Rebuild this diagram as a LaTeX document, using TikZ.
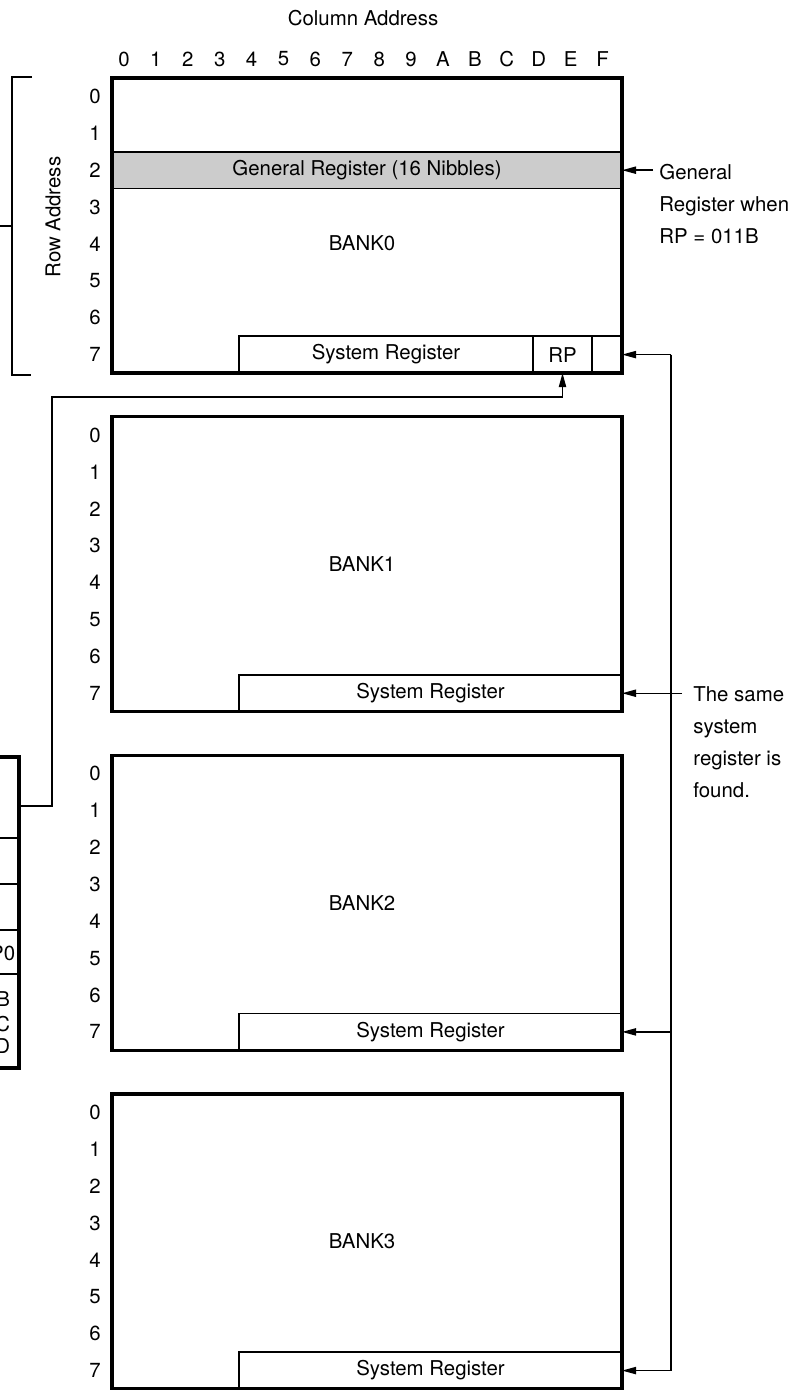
\documentclass[tikz,border=0pt]{standalone}
\usepackage{fontspec}
\setmainfont{TeX Gyre Heros}
\usetikzlibrary{positioning, arrows.meta, calc}

\tikzset{
    bankbox/.style={draw, line width=1.6pt, inner sep=0pt, outer sep=0pt,
        minimum width=255pt, minimum height=147.5pt, anchor=north west},
    sysbox/.style={draw, line width=0.8pt, inner sep=0pt, outer sep=0pt,
        minimum width=191.5pt, minimum height=18.44pt, anchor=south east},
    cellbox/.style={draw, line width=0.8pt, inner sep=0pt, outer sep=0pt, minimum height=18.44pt},
    thinlink/.style={line width=0.7pt},
    arrowlink/.style={thinlink, -{Triangle[length=7pt, width=3.6pt]}},
    note/.style={anchor=north west, align=left, inner sep=0pt}
}

\begin{document}
\begin{tikzpicture}[x=0.5pt, y=-0.5pt, font=\fontsize{10.2}{16}\selectfont]
    \useasboundingbox (0,0) rectangle (803,1390);

    % Column and row headings
    \node (coladdr) at (363,18) {Column Address};
    \foreach \c [count=\i from 0] in {0,1,2,3,4,5,6,7,8,9,A,B,C,D,E,F}
        \node (col\c) at (124+31.9*\i,59) {\c};
    \node[rotate=90] (rowaddr) at (53,217) {Row Address};
    \draw[thinlink] (32,77) -- (12,77) -- (12,375) -- (31,375);
    \draw[thinlink] (12,226) -- (0,226);

    % General register band (row 2 of BANK0)
    \node[cellbox, minimum width=255pt, fill=gray!40] (genreg) at (367,170.2) {General Register (16 Nibbles)};

    % The four banks
    \foreach \b in {0,...,3} {
        \pgfmathsetmacro{\banktop}{78+338.67*\b}
        \node[bankbox] (bank\b) at (112,\banktop) {};
        \node[sysbox] (sys\b) at (bank\b.south east) {};
        \foreach \r in {0,...,7}
            \node[inner sep=0pt] (row\b\r) at (95,\banktop+18.44+36.875*\r) {\r};
    }
    \node (bankname0) at (362,243) {BANK0};
    \foreach \b in {1,2,3} {
        \node (bankname\b) at (bank\b.center -| 362,0) {BANK\b};
        \node (sysname\b) at (sys\b.center) {System Register};
    }

    % BANK0 row 7: system register, RP and one more nibble
    \node[cellbox, minimum width=29.5pt] (rp) at (562.5,354.6) {RP};
    \node[cellbox, minimum width=15pt] (spare) at (607,354.6) {};
    \node (sysname0) at (386,354.6) {System Register};

    % Table at the left edge (cut off)
    \begin{scope}
        \clip (0,0) rectangle (803,1390);
        \node[draw, line width=1.6pt, inner sep=0pt, outer sep=0pt, minimum width=40pt,
            minimum height=155.5pt, anchor=north east] (regtab) at (19,757) {};
        \foreach \y in {838,884,930,974}
            \draw[thinlink] (-70,\y) -- (19,\y);
        \node[anchor=east, inner sep=0pt] (tabp) at (15.5,953) {P0};
        \node[anchor=east, inner sep=0pt] (tabb) at (10.5,999) {B};
        \node[anchor=east, inner sep=0pt] (tabc) at (10.5,1024) {C};
        \node[anchor=east, inner sep=0pt] (tabd) at (10.5,1046) {D};
    \end{scope}

    % Pointer from the table to RP
    \coordinate (tabout) at (19,806);
    \draw[arrowlink] (tabout) -| (52,397) -| (rp.south);

    % General register when RP = 011B
    \coordinate (grstart) at (653,170.2);
    \draw[arrowlink] (grstart) -- (genreg.east);
    \node[note] (grnote) at (659,163.5) {General\\Register when\\RP = 011B};

    % The same system register in every bank
    \coordinate (spinex) at (671,0);
    \coordinate (samex) at (682,0);
    \draw[thinlink] (spare.east -| spinex) -- (sys3.east -| spinex);
    \foreach \dst in {spare,sys2,sys3}
        \draw[arrowlink] (\dst.east -| spinex) -- (\dst.east);
    \draw[arrowlink] (sys1.east -| samex) -- (sys1.east);
    \node[note] (samenote) at (693,686.5) {The same\\system\\register is\\found.};
\end{tikzpicture}
\end{document}
